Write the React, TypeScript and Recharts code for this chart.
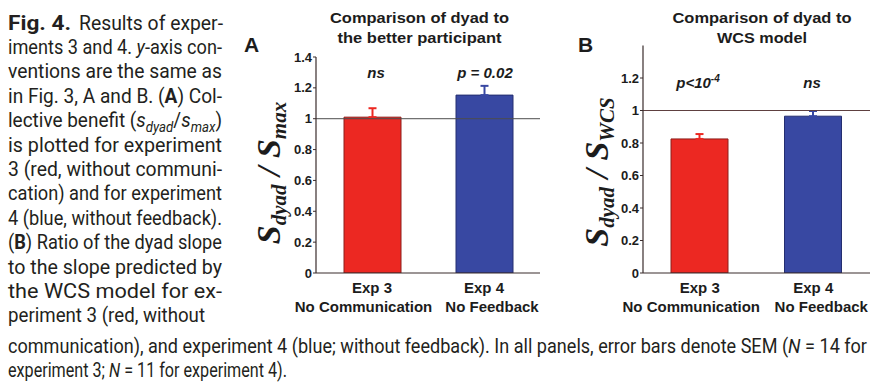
import React from "react";
import { BarChart, Bar, XAxis, YAxis, ReferenceLine, ErrorBar } from "recharts";

// ─── Data ─────────────────────────────────────────────────────────────────────

const experiments = ["Exp 3", "Exp 4"];
const conditions = ["No Communication", "No Feedback"];

// panel A: s_dyad / s_max
const ratioMax = [1.01, 1.153];
const ratioMaxSem = [0.058, 0.06];
const ticksA = [0, 0.2, 0.4, 0.6, 0.8, 1, 1.2, 1.4];
const signifA = ["ns", "p = 0.02"];

// panel B: s_dyad / s_WCS
const ratioWcs = [0.825, 0.965];
const ratioWcsSem = [0.03, 0.032];
const ticksB = [0, 0.2, 0.4, 0.6, 0.8, 1, 1.2];
const signifB = ["p<10^-4", "ns"];

const barColors = ["#ec2822", "#3848a2"];
const edgeColors = ["#8c1e1a", "#242e70"];
const AXIS = "#3a2c2c";
const INK = "#1c1c1c";
const SANS = "'Liberation Sans', Arial, sans-serif";
const CAPTION = "Roboto, 'Noto Sans', sans-serif";

function buildRows(values: number[], sem: number[]) {
  return experiments.map((name, i) => ({
    name,
    [`v${i}`]: values[i],
    [`e${i}`]: [0, sem[i]],
  }));
}

const rowsA = buildRows(ratioMax, ratioMaxSem);
const rowsB = buildRows(ratioWcs, ratioWcsSem);

// ─── Chart pieces ─────────────────────────────────────────────────────────────

function ExpTick(props: any) {
  const { x, y, payload, index } = props;
  const shift = index === 0 ? -8.5 : 8;
  return (
    <g fontFamily={SANS} fontSize={15} fontWeight={700} fill={INK}>
      <text x={x} y={y + 20} textAnchor="middle">
        {payload.value}
      </text>
      <text x={x + shift} y={y + 38.5} textAnchor="middle">
        {conditions[index]}
      </text>
    </g>
  );
}

function Panel({
  rows,
  ticks,
  width,
  yAxisWidth,
  top,
  right,
  refColor,
}: {
  rows: any[];
  ticks: number[];
  width: number;
  yAxisWidth: number;
  top: number;
  right: number;
  refColor: string;
}) {
  return (
    <BarChart
      width={width}
      height={330}
      data={rows}
      margin={{ top, right, bottom: 0, left: 0 }}
      style={{ fontFamily: SANS }}
    >
      <XAxis
        dataKey="name"
        height={57}
        interval={0}
        tickLine={false}
        tickSize={0}
        tickMargin={0}
        axisLine={{ stroke: AXIS, strokeWidth: 1.2 }}
        tick={<ExpTick />}
      />
      <YAxis
        type="number"
        domain={[0, 1.4]}
        ticks={ticks}
        interval={0}
        allowDataOverflow
        width={yAxisWidth}
        tickSize={3}
        tickMargin={1}
        axisLine={{ stroke: AXIS, strokeWidth: 1.2 }}
        tickLine={{ stroke: AXIS }}
        tick={{ fontSize: 13, fontWeight: 700, fill: INK }}
      />
      {experiments.map((_, i) => (
        <Bar
          key={i}
          dataKey={`v${i}`}
          stackId="s"
          barSize={57}
          fill={barColors[i]}
          stroke={edgeColors[i]}
          strokeWidth={1}
          isAnimationActive={false}
        >
          <ErrorBar
            dataKey={`e${i}`}
            width={4}
            strokeWidth={2}
            stroke={barColors[i]}
            isAnimationActive={false}
          />
        </Bar>
      ))}
      <ReferenceLine y={1} stroke={refColor} strokeWidth={1} />
    </BarChart>
  );
}

// ─── Overlay text ─────────────────────────────────────────────────────────────

function Signif({ label, x, y }: { label: string; x: number; y: number }) {
  const [base, sup] = label.split("^");
  return (
    <text x={x} y={y} textAnchor="middle" fontFamily={SANS} fontSize={15} fontWeight={700} fontStyle="italic" fill={INK}>
      {base}
      {sup && (
        <tspan fontSize={10} dy={-6}>
          {sup}
        </tspan>
      )}
    </text>
  );
}

function YLabel({ x, y, sub }: { x: number; y: number; sub: string }) {
  return (
    <text
      transform={`translate(${x},${y}) rotate(-90)`}
      textAnchor="middle"
      fontFamily="'Liberation Serif', 'Times New Roman', serif"
      fontWeight={700}
      fontStyle="italic"
      fontSize={34}
      fill={INK}
    >
      S
      <tspan fontSize={21} dy={6}>dyad</tspan>
      <tspan dy={-6}> / S</tspan>
      <tspan fontSize={21} dy={6}>{sub}</tspan>
    </text>
  );
}

const col = (i: number) => 29.5 + 24.4 * i;

function Caption() {
  const common = {
    fontFamily: CAPTION,
    fontSize: 20,
    fill: "#231f20",
    lengthAdjust: "spacingAndGlyphs" as const,
  };
  const it = { fontStyle: "italic" as const };
  return (
    <g>
      <text x={8} y={col(0)} {...common} fontWeight={700} textLength={63}>
        Fig. 4.
      </text>
      <text x={79} y={col(0)} {...common} textLength={144}>
        Results of exper-
      </text>
      <text x={8} y={col(1)} {...common} textLength={214}>
        iments 3 and 4. <tspan {...it}>y</tspan>-axis con-
      </text>
      <text x={8} y={col(2)} {...common} textLength={214}>
        ventions are the same as
      </text>
      <text x={8} y={col(3)} {...common} textLength={214}>
        in Fig. 3, A and B. (<tspan fontWeight={700}>A</tspan>) Col-
      </text>
      <text x={8} y={col(4)} {...common} textLength={214}>
        lective benefit (<tspan {...it}>s</tspan>
        <tspan {...it} fontSize={14} dy={5}>dyad</tspan>
        <tspan dy={-5}>/</tspan>
        <tspan {...it}>s</tspan>
        <tspan {...it} fontSize={14} dy={5}>max</tspan>
        <tspan dy={-5}>)</tspan>
      </text>
      <text x={8} y={col(5)} {...common} textLength={214}>
        is plotted for experiment
      </text>
      <text x={8} y={col(6)} {...common} textLength={214}>
        3 (red, without communi-
      </text>
      <text x={8} y={col(7)} {...common} textLength={214}>
        cation) and for experiment
      </text>
      <text x={8} y={col(8)} {...common} textLength={214}>
        4 (blue, without feedback).
      </text>
      <text x={8} y={col(9)} {...common} textLength={214}>
        (<tspan fontWeight={700}>B</tspan>) Ratio of the dyad slope
      </text>
      <text x={8} y={col(10)} {...common} textLength={214}>
        to the slope predicted by
      </text>
      <text x={8} y={col(11)} {...common} textLength={214}>
        the WCS model for ex-
      </text>
      <text x={8} y={col(12)} {...common} textLength={197}>
        periment 3 (red, without
      </text>
      <text x={8} y={353} {...common} textLength={859}>
        communication), and experiment 4 (blue; without feedback). In all panels, error bars denote SEM (
        <tspan {...it}>N</tspan> = 14 for
      </text>
      <text x={8} y={377} {...common} textLength={279}>
        experiment 3; <tspan {...it}>N</tspan> = 11 for experiment 4).
      </text>
    </g>
  );
}

function Titles() {
  const t = { fontFamily: SANS, fontSize: 15, fontWeight: 700, fill: INK, textAnchor: "middle" as const, lengthAdjust: "spacingAndGlyphs" as const };
  return (
    <g>
      <text x={419.5} y={23} {...t} textLength={179}>Comparison of dyad to</text>
      <text x={419.5} y={43} {...t} textLength={164}>the better participant</text>
      <text x={762} y={23} {...t} textLength={179}>Comparison of dyad to</text>
      <text x={762} y={43} {...t} textLength={90}>WCS model</text>
      <text x={244} y={52} fontFamily={SANS} fontSize={21} fontWeight={700} fill={INK}>A</text>
      <text x={578} y={52} fontFamily={SANS} fontSize={21} fontWeight={700} fill={INK}>B</text>
    </g>
  );
}

// ─── App ──────────────────────────────────────────────────────────────────────

export default function App() {
  return (
    <div style={{ position: "absolute", left: 0, top: 0, width: 872, height: 383, background: "#fff", overflow: "hidden" }}>
      <div style={{ position: "absolute", left: 230, top: 0 }}>
        <Panel rows={rowsA} ticks={ticksA} width={320} yAxisWidth={86} top={57} right={10} refColor="#4d4d4d" />
      </div>
      <div style={{ position: "absolute", left: 550, top: 0 }}>
        <Panel rows={rowsB} ticks={ticksB} width={322} yAxisWidth={93} top={45.5} right={2} refColor="#5e4040" />
      </div>
      <svg width={872} height={383} style={{ position: "absolute", left: 0, top: 0, pointerEvents: "none" }}>
        <Caption />
        <Titles />
        <Signif label={signifA[0]} x={376} y={78} />
        <Signif label={signifA[1]} x={485} y={78} />
        <Signif label={signifB[0]} x={698} y={88} />
        <Signif label={signifB[1]} x={812} y={88} />
        <YLabel x={280} y={173} sub="max" />
        <YLabel x={608} y={172} sub="WCS" />
      </svg>
    </div>
  );
}
